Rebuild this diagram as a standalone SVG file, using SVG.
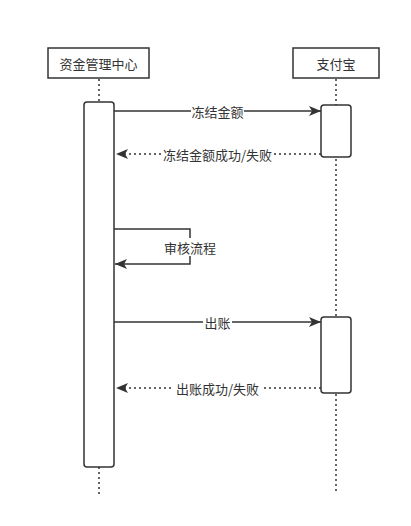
<svg xmlns="http://www.w3.org/2000/svg" width="411" height="526" viewBox="0 0 411 526">
<style>
.hdr{fill:#fff;stroke:#333;stroke-width:1.5}
.act{fill:#fff;stroke:#333;stroke-width:1.5}
.life{stroke:#333;stroke-width:1.5;stroke-dasharray:2 3;fill:none}
.msg{stroke:#333;stroke-width:1.5;fill:none}
.ret{stroke:#333;stroke-width:1.5;fill:none;stroke-dasharray:2 3}
text{font-family:"Noto Sans CJK SC","Liberation Sans",sans-serif;font-size:13px;fill:#333;text-anchor:middle;dominant-baseline:central}
.lbl{fill:#fff}
</style>
<defs>
<marker id="ah" markerWidth="12" markerHeight="10" refX="12" refY="5" orient="auto" markerUnits="userSpaceOnUse">
<path d="M0,0 L12,5 L0,10 L3,5 Z" fill="#333"/>
</marker>
</defs>
<rect width="411" height="526" fill="#fff"/>
<g id="lifelines">
<line class="life" x1="99" y1="79" x2="99" y2="102"/>
<line class="life" x1="99" y1="467" x2="99" y2="494"/>
<line class="life" x1="336" y1="79" x2="336" y2="494"/>
</g>
<g id="node-zjgl">
<rect class="hdr" x="48" y="48" width="101" height="30"/>
<text x="98.5" y="63.5">资金管理中心</text>
</g>
<g id="node-zfb">
<rect class="hdr" x="293" y="48" width="86" height="30"/>
<text x="336" y="63.5">支付宝</text>
</g>
<g id="act-zjgl">
<rect class="act" x="84" y="102" width="30" height="365" rx="3"/>
</g>
<g id="act-zfb-1">
<rect class="act" x="321" y="105" width="30" height="52" rx="3"/>
</g>
<g id="act-zfb-2">
<rect class="act" x="321" y="317" width="30" height="76" rx="3"/>
</g>
<g id="connectors">
<line class="msg" x1="114" y1="111" x2="321" y2="111" marker-end="url(#ah)"/>
<rect class="lbl" x="191" y="103" width="53" height="16"/>
<text x="217.5" y="111">冻结金额</text>
<line class="ret" x1="321" y1="154" x2="116" y2="154" marker-end="url(#ah)"/>
<rect class="lbl" x="162" y="146" width="112" height="16"/>
<text x="217.5" y="154">冻结金额成功/失败</text>
<path class="msg" d="M114,229 H190 V264 H115" marker-end="url(#ah)"/>
<rect class="lbl" x="163" y="238" width="54" height="18"/>
<text x="190" y="247">审核流程</text>
<line class="msg" x1="114" y1="322" x2="321" y2="322" marker-end="url(#ah)"/>
<rect class="lbl" x="203" y="314" width="29" height="16"/>
<text x="217.5" y="322">出账</text>
<line class="ret" x1="321" y1="388" x2="116" y2="388" marker-end="url(#ah)"/>
<rect class="lbl" x="173" y="380" width="89" height="16"/>
<text x="217.5" y="388">出账成功/失败</text>
</g>
</svg>
